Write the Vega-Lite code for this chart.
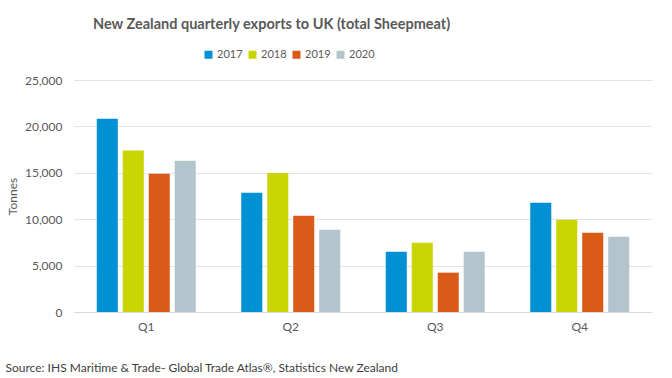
{
  "$schema": "https://vega.github.io/schema/vega-lite/v6.json",
  "width": 578,
  "height": 232,
  "autosize": {"type": "none"},
  "padding": {"left": 74, "top": 80, "right": 20, "bottom": 66},
  "background": "white",
  "title": {
    "text": "New Zealand quarterly exports to UK (total Sheepmeat)",
    "anchor": "start",
    "frame": "group",
    "dx": 19,
    "offset": 17,
    "font": "Lato",
    "fontSize": 14.5,
    "fontWeight": "bold",
    "color": "#595959"
  },
  "data": {
    "values": [
      {"quarter": "Q1", "year": "2017", "tonnes": 20830},
      {"quarter": "Q1", "year": "2018", "tonnes": 17390},
      {"quarter": "Q1", "year": "2019", "tonnes": 14910},
      {"quarter": "Q1", "year": "2020", "tonnes": 16310},
      {"quarter": "Q2", "year": "2017", "tonnes": 12860},
      {"quarter": "Q2", "year": "2018", "tonnes": 14980},
      {"quarter": "Q2", "year": "2019", "tonnes": 10380},
      {"quarter": "Q2", "year": "2020", "tonnes": 8870},
      {"quarter": "Q3", "year": "2017", "tonnes": 6500},
      {"quarter": "Q3", "year": "2018", "tonnes": 7470},
      {"quarter": "Q3", "year": "2019", "tonnes": 4240},
      {"quarter": "Q3", "year": "2020", "tonnes": 6500},
      {"quarter": "Q4", "year": "2017", "tonnes": 11780},
      {"quarter": "Q4", "year": "2018", "tonnes": 9950},
      {"quarter": "Q4", "year": "2019", "tonnes": 8550},
      {"quarter": "Q4", "year": "2020", "tonnes": 8120}
    ]
  },
  "mark": {"type": "bar"},
  "encoding": {
    "x": {
      "field": "quarter",
      "type": "nominal",
      "scale": {"paddingInner": 0.315, "paddingOuter": 0.1575},
      "axis": {
        "title": "Source: IHS Maritime & Trade- Global Trade Atlas®, Statistics New Zealand",
        "titleFont": "Lato",
        "titleFontSize": 12,
        "titleFontWeight": "normal",
        "titleColor": "#404040",
        "titleAnchor": "start",
        "titleAlign": "left",
        "titleBaseline": "middle",
        "titleX": -69,
        "titleY": 55,
        "labelAngle": 0,
        "labelFont": "Lato",
        "labelFontSize": 12,
        "labelColor": "#595959",
        "labelPadding": 9,
        "ticks": false,
        "domainColor": "#D9D9D9",
        "domainWidth": 1
      }
    },
    "xOffset": {
      "field": "year",
      "type": "nominal",
      "scale": {"paddingInner": 0.19, "paddingOuter": 0}
    },
    "y": {
      "field": "tonnes",
      "type": "quantitative",
      "scale": {"domain": [0, 25000]},
      "axis": {
        "title": "Tonnes",
        "titleFont": "Lato",
        "titleFontSize": 12,
        "titleFontWeight": "normal",
        "titleColor": "#595959",
        "titleX": -55,
        "values": [0, 5000, 10000, 15000, 20000, 25000],
        "format": ",d",
        "labelFont": "Lato",
        "labelFontSize": 12,
        "labelColor": "#595959",
        "labelPadding": 12,
        "ticks": false,
        "domain": false,
        "gridColor": "#E3E3E3",
        "gridWidth": 1
      }
    },
    "color": {
      "field": "year",
      "type": "nominal",
      "scale": {
        "domain": ["2017", "2018", "2019", "2020"],
        "range": ["#0090D4", "#C9D400", "#DA5A18", "#B3C5CC"]
      },
      "legend": {
        "title": null,
        "orient": "none",
        "direction": "horizontal",
        "legendX": 129,
        "legendY": -31,
        "symbolType": "square",
        "symbolSize": 64,
        "symbolStrokeWidth": 0,
        "labelFont": "Lato",
        "labelFontSize": 11,
        "labelColor": "#595959",
        "labelOffset": 3,
        "columnPadding": 4
      }
    }
  },
  "config": {
    "view": {"stroke": null}
  }
}
